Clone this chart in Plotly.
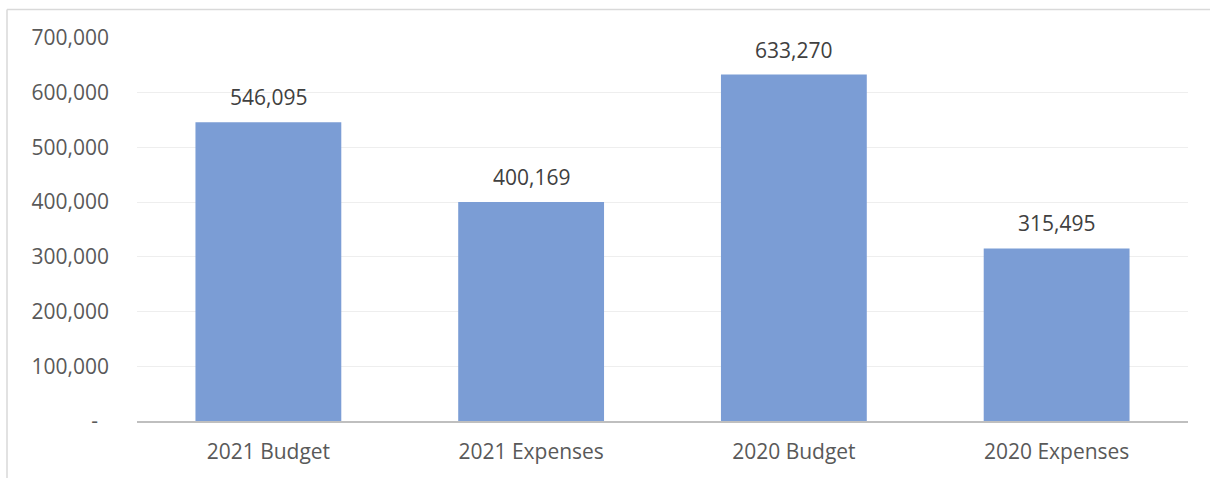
import plotly.graph_objects as go

categories = ["2021 Budget", "2021 Expenses", "2020 Budget", "2020 Expenses"]
values = [546095, 400169, 633270, 315495]
tick_vals = [0, 100000, 200000, 300000, 400000, 500000, 600000, 700000]
tick_text = ["-\u00a0\u00a0", "100,000", "200,000", "300,000", "400,000", "500,000", "600,000", "700,000"]

W, H = 1210, 478
L, R, T, B = 137, 22, 38, 57
pw = W - L - R
ph = H - T - B

fig = go.Figure()
fig.add_trace(go.Bar(
    x=categories, y=values,
    marker=dict(color="#7B9DD5", line=dict(width=0)),
    width=0.555,
    hoverinfo="x+y",
))

for c, v in zip(categories, values):
    fig.add_annotation(x=c, y=v, text=f"{v:,}", showarrow=False,
                       yanchor="middle", yshift=25,
                       font=dict(family="Open Sans", size=21, color="#404040"))

def px_x(p):
    return (p - L) / pw

def px_y(p):
    return 1 - (p - T) / ph

border = dict(color="#d9d9d9", width=1.5)
fig.add_shape(type="line", xref="paper", yref="paper",
              x0=px_x(7), x1=px_x(7), y0=px_y(9.5), y1=px_y(478), line=border)
fig.add_shape(type="line", xref="paper", yref="paper",
              x0=px_x(7), x1=px_x(1210), y0=px_y(9.5), y1=px_y(9.5), line=border)

fig.update_layout(
    width=W, height=H,
    margin=dict(l=L, r=R, t=T, b=B),
    plot_bgcolor="white", paper_bgcolor="white",
    showlegend=False,
    bargap=0.445,
    font=dict(family="Open Sans", size=21, color="#595959"),
    xaxis=dict(showgrid=False, showline=True, linecolor="#bfbfbf", linewidth=2,
               ticks="", ticklabelstandoff=11, fixedrange=True),
    yaxis=dict(range=[0, 700000], tickvals=tick_vals, ticktext=tick_text,
               showgrid=True, gridcolor="#eeeeee", gridwidth=1,
               zeroline=False, showline=False, ticks="",
               ticklabelstandoff=27, fixedrange=True),
)

fig.write_html("out.html")
